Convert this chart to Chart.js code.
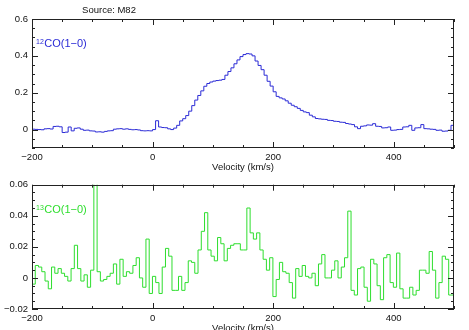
<!DOCTYPE html>
<html>
<head>
<meta charset="utf-8">
<script src="https://cdn.jsdelivr.net/npm/chart.js@4.4.1/dist/chart.umd.min.js"></script>
<style>
  html, body { margin: 0; padding: 0; background: #fff; overflow: hidden; }
  #wrap { position: relative; width: 469px; height: 330px; overflow: hidden; }
  canvas { position: absolute; left: 0; }
  #top { top: 0; }
  #bottom { top: 175px; }
</style>
</head>
<body>
<div id="wrap">
  <canvas id="top" width="469" height="175"></canvas>
  <canvas id="bottom" width="469" height="170"></canvas>
</div>
<script>
// velocity axis (km/s)
const velocityTicks = [-200, 0, 200, 400];

// 12CO(1-0) spectrum, channels start at -200 km/s, 5 km/s wide
const co12Start = -200;
const co12Width = 5;
const co12Values = [
  0.002, 0.001, 0.000, -0.001, 0.004, 0.005, 0.003, 0.017, 0.018, 0.015,
  -0.016, -0.014, 0.014, -0.007, 0.007, 0.009, 0.002, -0.004, -0.003, -0.007,
  -0.008, -0.013, -0.012, -0.014, -0.010, -0.007, -0.006, 0.002, 0.004, 0.005,
  0.002, 0.004, 0.001, -0.001, 0.000, -0.002, -0.006, -0.007, -0.006, -0.007,
  0.000, 0.048, 0.014, 0.011, 0.010, 0.004, 0.000, 0.008, 0.023, 0.047,
  0.059, 0.076, 0.100, 0.130, 0.160, 0.185, 0.210, 0.235, 0.250, 0.258,
  0.263, 0.266, 0.268, 0.272, 0.295, 0.315, 0.335, 0.357, 0.378, 0.396,
  0.407, 0.412, 0.410, 0.400, 0.372, 0.348, 0.325, 0.295, 0.262, 0.236,
  0.205, 0.180, 0.172, 0.166, 0.156, 0.143, 0.132, 0.124, 0.115, 0.104,
  0.096, 0.092, 0.078, 0.069, 0.060, 0.058, 0.056, 0.055, 0.050, 0.049,
  0.045, 0.044, 0.040, 0.039, 0.033, 0.030, 0.027, 0.015, 0.005, 0.018,
  0.020, 0.025, 0.024, 0.032, 0.018, 0.017, 0.009, 0.010, 0.014, -0.004,
  -0.003, 0.000, 0.001, 0.014, 0.015, 0.023, -0.004, 0.009, 0.010, 0.027,
  0.005, 0.004, 0.002, 0.001, -0.004, -0.003, -0.009, -0.008, -0.004, 0.023
];
const co12Ticks = [0, 0.2, 0.4, 0.6];

// 13CO(1-0) spectrum, channels start at -200 km/s, 5.4 km/s wide
const co13Start = -200;
const co13Width = 5.4;
const co13Values = [
  -0.004, 0.008, 0.007, 0.004, -0.002, -0.007, 0.007, 0.003, 0.006, 0.003,
  0.001, -0.002, 0.006, 0.021, 0.006, -0.002, 0.002, -0.006, 0.005, 0.090,
  0.004, -0.002, -0.001, 0.001, 0.003, 0.009, -0.004, 0.012, 0.001, 0.004,
  0.003, 0.008, 0.013, 0.000, -0.006, 0.025, -0.010, 0.001, -0.003, -0.010,
  0.007, 0.019, 0.014, -0.008, -0.008, 0.001, -0.008, -0.003, 0.011, 0.010,
  0.003, 0.018, 0.030, 0.042, 0.018, 0.014, 0.011, 0.026, 0.022, 0.011,
  0.019, 0.021, 0.022, 0.022, 0.018, 0.018, 0.045, 0.029, 0.025, 0.029,
  0.018, 0.012, 0.005, 0.013, -0.012, -0.001, 0.010, 0.004, 0.003, -0.003,
  -0.013, 0.006, 0.001, 0.008, 0.001, 0.000, 0.003, -0.005, 0.009, 0.015,
  0.000, 0.000, 0.005, 0.011, 0.000, 0.007, 0.013, 0.043, -0.008, -0.011,
  0.006, 0.007, -0.006, -0.015, 0.012, 0.009, -0.005, -0.014, 0.013, 0.015,
  -0.003, -0.006, 0.016, -0.007, -0.013, -0.013, -0.006, -0.011, -0.008, 0.005,
  0.005, 0.003, 0.017, 0.005, -0.013, -0.003, 0.014, 0.012, -0.011, -0.011
];
const co13Ticks = [-0.02, 0, 0.02, 0.04, 0.06];

const FONT = "'Liberation Sans', Arial, sans-serif";

// left edge of every channel, plus the right edge of the last one
function stepPoints(start, width, values) {
  const pts = values.map((v, i) => ({ x: start + i * width, y: v }));
  pts.push({ x: start + values.length * width, y: values[values.length - 1] });
  return pts;
}

function minus(v) {
  return String(v).replace('-', '\u2212');
}

// box, inward ticks on all sides, line name and axis title
function decor(p) {
  return {
    id: 'decor',
    afterDraw(chart) {
      const ctx = chart.ctx;
      const a = chart.chartArea;
      const xs = chart.scales.x;
      const ys = chart.scales.y;
      ctx.save();
      ctx.strokeStyle = '#222';
      ctx.lineWidth = 1;
      ctx.strokeRect(Math.round(a.left) + 0.5, Math.round(a.top) + 0.5,
        Math.round(a.width) - 1, Math.round(a.height) - 1);

      ctx.beginPath();
      for (let k = Math.ceil(xs.min / 50); k * 50 <= xs.max; k++) {
        const v = k * 50;
        const px = Math.round(xs.getPixelForValue(v)) + 0.5;
        const len = v % 200 === 0 ? 6 : 3;
        ctx.moveTo(px, a.top); ctx.lineTo(px, a.top + len);
        ctx.moveTo(px, a.bottom); ctx.lineTo(px, a.bottom - len);
      }
      const n0 = Math.ceil(ys.min / p.minor - 1e-6);
      const n1 = Math.floor(ys.max / p.minor + 1e-6);
      for (let k = n0; k <= n1; k++) {
        const v = k * p.minor;
        const r = v / p.major;
        const len = Math.abs(r - Math.round(r)) < 1e-6 ? 6 : 3;
        const py = Math.round(ys.getPixelForValue(v)) + 0.5;
        ctx.moveTo(a.left, py); ctx.lineTo(a.left + len, py);
        ctx.moveTo(a.right, py); ctx.lineTo(a.right - len, py);
      }
      ctx.stroke();

      // line name with superscript isotope number
      ctx.fillStyle = p.color;
      ctx.textBaseline = 'alphabetic';
      ctx.textAlign = 'left';
      ctx.font = '7px ' + FONT;
      ctx.fillText(p.iso, a.left + 4, a.top + 25);
      const w = ctx.measureText(p.iso).width;
      ctx.font = '11px ' + FONT;
      ctx.fillText('CO(1\u22120)', a.left + 4 + w + 0.5, a.top + 28);

      ctx.fillStyle = '#111';
      ctx.textAlign = 'center';
      ctx.textBaseline = 'middle';
      ctx.font = '9.5px ' + FONT;
      ctx.fillText('Velocity (km/s)', 243, a.bottom + 19.5);
      if (p.source) {
        ctx.fillText(p.source, 109, 10.5);
      }
      ctx.restore();
    }
  };
}

function makePanel(id, p) {
  return new Chart(document.getElementById(id), {
    type: 'line',
    data: {
      datasets: [{
        data: stepPoints(p.start, p.width, p.values),
        borderColor: p.color,
        borderWidth: 1,
        pointRadius: 0,
        stepped: true,
        fill: false
      }]
    },
    options: {
      responsive: false,
      animation: false,
      devicePixelRatio: 1,
      layout: { padding: { top: p.padTop, right: 15, left: 0, bottom: 0 } },
      plugins: { legend: { display: false }, tooltip: { enabled: false } },
      scales: {
        x: {
          type: 'linear',
          min: -200,
          max: 500,
          afterFit: s => { s.height = p.xHeight; },
          afterBuildTicks: s => { s.ticks = velocityTicks.map(v => ({ value: v })); },
          grid: { display: false, drawTicks: false },
          border: { display: false },
          ticks: {
            color: '#111', padding: 4, maxRotation: 0, autoSkip: false,
            font: { family: FONT, size: 9.5 },
            callback: v => minus(v)
          }
        },
        y: {
          type: 'linear',
          min: p.yMin,
          max: p.yMax,
          afterFit: s => { s.width = 32; },
          afterBuildTicks: s => { s.ticks = p.yTicks.map(v => ({ value: v })); },
          grid: { display: false, drawTicks: false },
          border: { display: false },
          ticks: {
            color: '#111', padding: 4, autoSkip: false,
            font: { family: FONT, size: 9.5 },
            callback: v => minus(v)
          }
        }
      }
    },
    plugins: [decor(p)]
  });
}

makePanel('top', {
  start: co12Start, width: co12Width, values: co12Values,
  color: '#2b2bd6', iso: '12', source: 'Source: M82',
  yMin: -0.1, yMax: 0.6, yTicks: co12Ticks, minor: 0.05, major: 0.2,
  padTop: 19, xHeight: 27
});

makePanel('bottom', {
  start: co13Start, width: co13Width, values: co13Values,
  color: '#2ede2e', iso: '13', source: null,
  yMin: -0.02, yMax: 0.06, yTicks: co13Ticks, minor: 0.005, major: 0.02,
  padTop: 5, xHeight: 36
});
</script>
</body>
</html>
